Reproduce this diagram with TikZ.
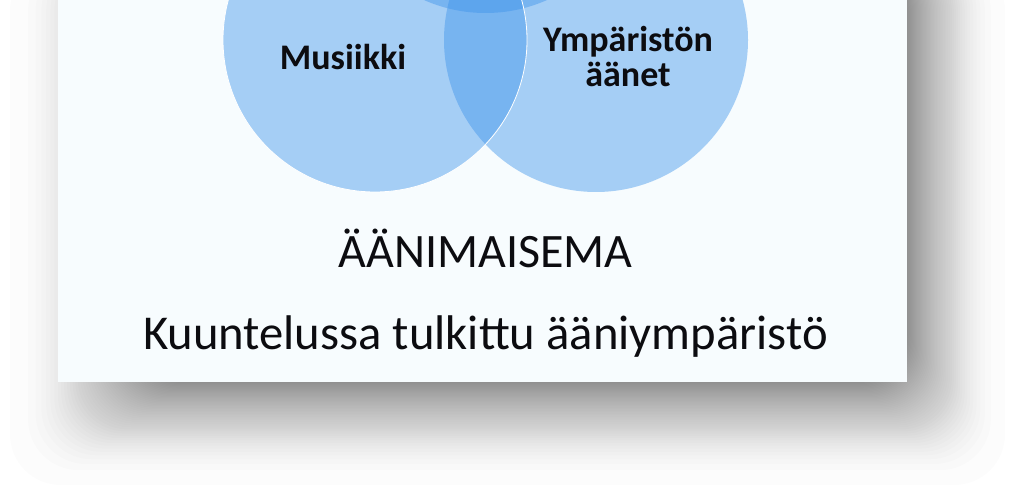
\documentclass[tikz,border=0pt]{standalone}
\usepackage{fontspec}
\usepackage{xcolor}
\setmainfont{Carlito}
\definecolor{panelbg}{RGB}{247,252,254}
\definecolor{vennblue}{RGB}{59,146,235}
\definecolor{inkblack}{RGB}{12,12,16}
\usetikzlibrary{positioning}
\tikzset{
  vennset/.style={fill=vennblue, fill opacity=0.43},
  setlabel/.style={anchor=base, inner sep=0.75pt, text=inkblack, font=\fontsize{27}{32}\selectfont\bfseries},
  bigtext/.style={anchor=base, inner sep=0.75pt, text=inkblack, font=\fontsize{36}{43}\selectfont}
}

\begin{document}
\begin{tikzpicture}[x=0.75pt,y=0.75pt,yscale=-1,xscale=1]
\useasboundingbox (0,0) rectangle (1024,499);
\clip (0,0) rectangle (1024,499);

%Shadow under the panel
\foreach \i in {1,...,60}{
  \pgfmathsetmacro{\s}{1-sqrt(1-\i/60)}
  \fill [black, opacity=0.011, rounded corners=38pt] ({150-140*\s},-40) rectangle ({895+110*\s},{370+115*\s});
}

%Shape: Rectangle [panel]
\fill [panelbg] (58,-5) rectangle (907,382);

%Shape: Circle [top set]
\fill [vennset] (485.5,-139) circle (152);
%Shape: Circle [right set]
\fill [vennset] (596,40) circle (152);
%Shape: Circle [left set]
\filldraw [vennset, draw=white, line width=0.6pt] (375,40) circle (152);

% Text Node
\draw (343,70) node (musiikki) [setlabel] {Musiikki};
% Text Node
\draw (628,52) node (ymparisto) [setlabel] {Ympäristön};
% Text Node
\draw (628,87) node (aanet) [setlabel] {äänet};
% Text Node
\draw (485.5,267) node (aanimaisema) [bigtext] {ÄÄNIMAISEMA};
% Text Node
\draw (485.5,349) node (kuuntelu) [bigtext, font=\fontsize{36.5}{43}\selectfont] {Kuuntelussa tulkittu ääniympäristö};

\end{tikzpicture}
\end{document}
